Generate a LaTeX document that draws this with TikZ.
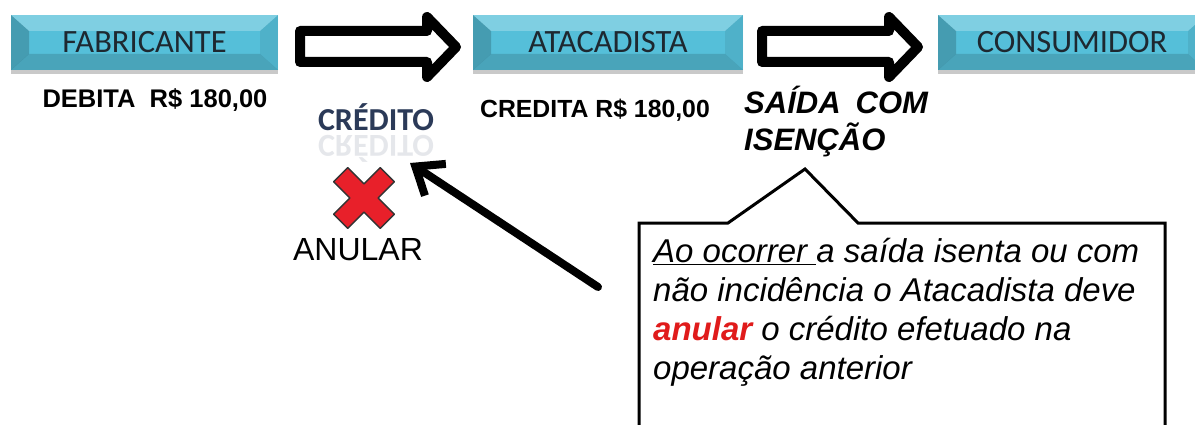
\documentclass[tikz,border=0pt]{standalone}
\usepackage{fontspec}
\setmainfont{Liberation Sans}
\newfontfamily\calibri{Carlito}
\usetikzlibrary{arrows.meta,shadows,calc}
\definecolor{boxbase}{HTML}{55BFD9}
\definecolor{boxtext}{HTML}{1E2830}
\definecolor{navy}{HTML}{2B3A58}
\definecolor{xred}{HTML}{E8202A}
\definecolor{txtred}{HTML}{E01B1B}
\tikzset{
  bevelbox/.style={minimum width=#1, minimum height=55pt, inner sep=0pt,
    fill=boxbase, text=boxtext, font=\calibri\fontsize{32.5}{36}\selectfont,
    drop shadow={shadow xshift=0pt, shadow yshift=-4pt, opacity=.3, fill=black!70},
    path picture={
      \coordinate (pnw) at (path picture bounding box.north west);
      \coordinate (pne) at (path picture bounding box.north east);
      \coordinate (psw) at (path picture bounding box.south west);
      \coordinate (pse) at (path picture bounding box.south east);
      \fill[white,opacity=.25] (pnw) -- (pne) -- ([xshift=-18pt,yshift=-16pt]pne) -- ([xshift=18pt,yshift=-16pt]pnw) -- cycle;
      \fill[black,opacity=.14] (psw) -- (pse) -- ([xshift=-18pt,yshift=16pt]pse) -- ([xshift=18pt,yshift=16pt]psw) -- cycle;
      \fill[black,opacity=.18] (pnw) -- ([xshift=18pt,yshift=-16pt]pnw) -- ([xshift=18pt,yshift=16pt]psw) -- (psw) -- cycle;
      \fill[black,opacity=.07] (pne) -- ([xshift=-18pt,yshift=-16pt]pne) -- ([xshift=-18pt,yshift=16pt]pse) -- (pse) -- cycle;
    }},
  blockarrow/.style={draw=black, line width=10pt, line join=round, fill=white},
  amount/.style={font=\bfseries\fontsize{25.5}{29}\selectfont},
  pointer/.style={line width=8pt, line cap=round, line join=round, -{Straight Barb[length=24pt,width=38pt]}},
  callout/.style={draw=black, line width=3pt, fill=white},
}
\begin{document}
\begin{tikzpicture}[x=1pt,y=-1pt]
\useasboundingbox (0,0) rectangle (1195,425);
\clip (0,0) rectangle (1195,425);

% boxes
\node[bevelbox=267pt] (fab) at (144.5,42.5) {FABRICANTE};
\node[bevelbox=270pt] (ata) at (608,42.5) {ATACADISTA};
\node[bevelbox=268pt] (cons) at (1072,42.5) {CONSUMIDOR};

% hollow block arrows
\draw[blockarrow] (300,31) -- (427,31) -- (427,17) -- (456,47) -- (427,77) -- (427,62) -- (300,62) -- cycle;
\draw[blockarrow] (762,31) -- (889,31) -- (889,17) -- (918,47) -- (889,77) -- (889,62) -- (762,62) -- cycle;

% amounts
\node[amount] (deb) at (155,100) {DEBITA\ \ R\$ 180,00};
\node[amount, font=\bfseries\fontsize{24.8}{29}\selectfont] (cre) at (595,110) {CREDITA R\$ 180,00};

% credito with reflection
\node[font=\calibri\bfseries\fontsize{32}{36}\selectfont, text=navy] (cred) at (376,117) {CRÉDITO};
\node[font=\calibri\bfseries\fontsize{32}{36}\selectfont, text=navy, opacity=.12] (credr) at (376,149) {\scalebox{1}[-1]{CRÉDITO}};

% saida com isencao
\node[anchor=north west, align=left, font=\bfseries\itshape\fontsize{31}{37}\selectfont, inner sep=0pt] (saida) at (744,86) {SAÍDA\hspace{15pt}COM\\ISENÇÃO};

% red X
\node (xmark) at (364,198) {};
\fill[xred, draw=black!80, line width=1.5pt, line join=round, rotate around={45:(364,198)}]
  (354,165) -- (374,165) -- (374,188) -- (397,188) -- (397,208) -- (374,208) -- (374,231) -- (354,231) -- (354,208) -- (331,208) -- (331,188) -- (354,188) -- cycle;
\node[font=\fontsize{32}{36}\selectfont] (anular) at (358,250) {ANULAR};

% callout
\draw[callout] (639,223) -- (728,223) -- (805,169) -- (858,223) -- (1165,223) -- (1165,440) -- (639,440) -- cycle;
\node[anchor=north west, align=left, inner sep=0pt, font=\itshape\fontsize{33}{39}\selectfont] (note) at (653,238)
  {\underline{Ao ocorrer }a saída isenta ou com\\não incidência o Atacadista deve\\{\bfseries\color{txtred}anular} o crédito efetuado na\\operação anterior};

% pointer arrow
\coordinate (ptail) at (598,287);
\coordinate (phead) at (410,163);
\draw[pointer] (ptail) -- (phead);
\end{tikzpicture}
\end{document}
